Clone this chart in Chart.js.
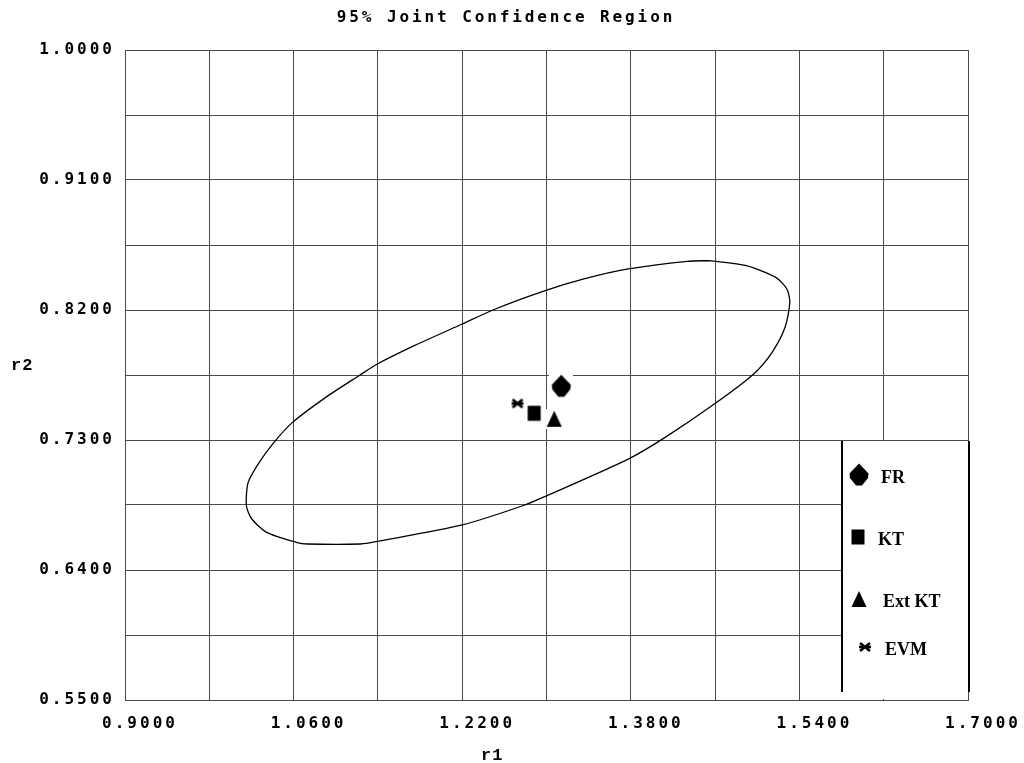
<!DOCTYPE html>
<html>
<head>
<meta charset="utf-8">
<title>95% Joint Confidence Region</title>
<script src="https://cdn.jsdelivr.net/npm/chart.js@4.4.0/dist/chart.umd.min.js"></script>
<style>
  html, body { margin: 0; padding: 0; background: #fff; }
</style>
</head>
<body>
<canvas id="region" width="1024" height="763"></canvas>
<script>
// boundary of the 95% joint confidence region (r1, r2)
const r1Ellipse = [1.4546, 1.4336, 1.3776, 1.3355, 1.2988, 1.2515, 1.2200, 1.1745, 1.1395, 1.1220,
                   1.0905, 1.0590, 1.0414, 1.0274, 1.0169, 1.0152, 1.0204, 1.0344, 1.0625, 1.0730,
                   1.1237, 1.1395, 1.2200, 1.2795, 1.3005, 1.3776, 1.4126, 1.4616, 1.4966, 1.5141,
                   1.5264, 1.5309, 1.5281, 1.5176, 1.4896, 1.4546];
const r2Ellipse = [0.8542, 0.8537, 0.8484, 0.8415, 0.8334, 0.8207, 0.8103, 0.7953, 0.7826, 0.7745,
                   0.7595, 0.7422, 0.7284, 0.7145, 0.7007, 0.6845, 0.6753, 0.6661, 0.6592, 0.6580,
                   0.6580, 0.6598, 0.6712, 0.6850, 0.6915, 0.7168, 0.7318, 0.7561, 0.7757, 0.7907,
                   0.8080, 0.8253, 0.8345, 0.8426, 0.8507, 0.8542];

// point estimates per method
const methods = ['FR', 'KT', 'Ext KT', 'EVM'];
const r1Est = [1.3140, 1.2883, 1.3073, 1.2725];
const r2Est = [0.7672, 0.7485, 0.7447, 0.7553];

const r1Ticks = ['0.9000', '1.0600', '1.2200', '1.3800', '1.5400', '1.7000'];
const r2Ticks = ['0.5500', '0.6400', '0.7300', '0.8200', '0.9100', '1.0000'];

const gridColor = '#4a4a4a';
const tickFont = { family: 'DejaVu Sans Mono', weight: 'bold', size: 16 };

// marker glyphs on a small white tile, like the old plotter symbols
function glyph(w, h, draw) {
  const c = document.createElement('canvas');
  c.width = w; c.height = h;
  const g = c.getContext('2d');
  g.fillStyle = '#fff';
  g.fillRect(0, 0, w, h);
  g.fillStyle = '#000';
  g.strokeStyle = '#000';
  g.translate(w / 2, h / 2);
  draw(g);
  return c;
}

const diamond = glyph(24, 26, g => {
  g.beginPath();
  g.moveTo(0, -11.5);
  g.lineTo(9.5, -1.5);
  g.lineTo(9, 3);
  g.lineTo(3, 10.5);
  g.lineTo(-3, 10.5);
  g.lineTo(-9, 3);
  g.lineTo(-9.5, -1.5);
  g.closePath();
  g.fill();
});
const square = glyph(16, 18, g => g.fillRect(-6.5, -7.5, 13, 15));
const triangle = glyph(18, 20, g => {
  g.beginPath();
  g.moveTo(0, -8);
  g.lineTo(7.5, 8);
  g.lineTo(-7.5, 8);
  g.closePath();
  g.fill();
});
const star = glyph(16, 12, g => {
  g.lineWidth = 2.6;
  g.beginPath();
  g.moveTo(-5, -4); g.lineTo(5, 4);
  g.moveTo(5, -4); g.lineTo(-5, 4);
  g.moveTo(-6, 0); g.lineTo(6, 0);
  g.stroke();
});
const markers = [diamond, square, triangle, star];

const decor = {
  id: 'decor',
  beforeDraw(chart) {
    chart.ctx.letterSpacing = '3px';
  },
  afterDatasetsDraw(chart) {
    const c = chart.ctx;
    const area = chart.chartArea;
    const top = Math.round(chart.scales.y.getPixelForValue(0.73)) + 1;
    const left = area.right - 126;
    c.save();
    c.fillStyle = '#fff';
    c.fillRect(left, top, area.right - left, area.bottom - top - 1);
    c.strokeStyle = '#000';
    c.lineWidth = 2;
    c.beginPath();
    c.moveTo(left, top); c.lineTo(left, area.bottom - 8);
    c.moveTo(area.right + 1, top); c.lineTo(area.right + 1, area.bottom - 8);
    c.stroke();

    const rows = [top + 34, top + 96, top + 158, top + 206];
    const xs = [left + 17, left + 16, left + 17, left + 23];
    const tx = [left + 39, left + 36, left + 41, left + 43];
    c.letterSpacing = '0px';
    c.font = 'bold 18px "Liberation Serif"';
    c.fillStyle = '#000';
    c.textBaseline = 'middle';
    methods.forEach((m, i) => {
      const g = markers[i];
      c.drawImage(g, Math.round(xs[i] - g.width / 2), Math.round(rows[i] - g.height / 2));
      c.fillText(m, tx[i], rows[i] + 3);
    });
    c.restore();
  },
  afterDraw(chart) {
    const c = chart.ctx;
    c.save();
    c.fillStyle = '#000';
    c.textBaseline = 'middle';
    c.letterSpacing = '2.9px';
    c.font = 'bold 16px "DejaVu Sans Mono"';
    c.textAlign = 'center';
    c.fillText('95% Joint Confidence Region', 506, 18);
    c.letterSpacing = '1px';
    c.font = 'bold 17px "Liberation Mono"';
    c.textAlign = 'left';
    c.fillText('r2', 11, 366);
    c.fillText('r1', 481, 756);
    c.restore();
  }
};

new Chart(document.getElementById('region'), {
  type: 'scatter',
  data: {
    datasets: [
      {
        label: 'region',
        data: r1Ellipse.map((x, i) => ({ x: x, y: r2Ellipse[i] })),
        showLine: true,
        borderColor: '#000',
        borderWidth: 1.3,
        pointRadius: 0,
        tension: 0.25,
        fill: false
      },
      {
        label: 'estimates',
        data: r1Est.map((x, i) => ({ x: x, y: r2Est[i] })),
        pointStyle: markers,
        pointRadius: 10,
        pointHoverRadius: 10
      }
    ]
  },
  options: {
    responsive: false,
    animation: false,
    devicePixelRatio: 1,
    layout: { padding: { top: 50, right: 56, left: 0, bottom: 0 } },
    plugins: {
      legend: { display: false },
      title: { display: false },
      tooltip: { enabled: false }
    },
    scales: {
      x: {
        type: 'linear',
        min: 0.9,
        max: 1.7,
        afterFit: s => { s.height = 63; },
        grid: { color: gridColor, drawTicks: false, lineWidth: 1 },
        border: { color: gridColor },
        ticks: {
          stepSize: 0.08,
          autoSkip: false,
          maxRotation: 0,
          labelOffset: 15,
          padding: 14,
          color: '#000',
          font: tickFont,
          callback: (v, i) => (i % 2 ? '' : r1Ticks[i / 2])
        }
      },
      y: {
        type: 'linear',
        min: 0.55,
        max: 1.0,
        afterFit: s => { s.width = 125; },
        grid: { color: gridColor, drawTicks: false, lineWidth: 1 },
        border: { color: gridColor },
        ticks: {
          stepSize: 0.045,
          autoSkip: false,
          padding: 10,
          color: '#000',
          font: tickFont,
          callback: (v, i) => (i % 2 ? '' : r2Ticks[i / 2])
        }
      }
    }
  },
  plugins: [decor]
});
</script>
</body>
</html>
